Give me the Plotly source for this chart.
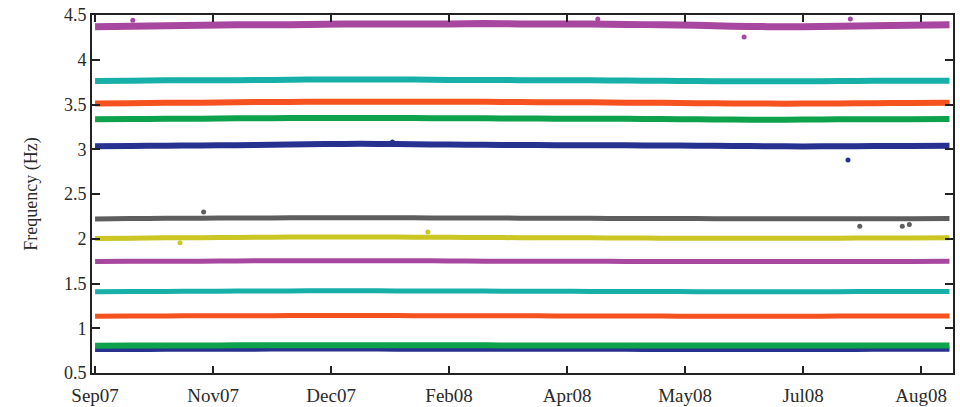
import plotly.graph_objects as go

# Day index (days since start of record) of each sampled frequency estimate
days = [0, 15, 30, 45, 60, 75, 90, 105, 120, 135, 150, 165, 180,
        195, 210, 225, 240, 255, 270, 285, 300, 315, 330, 345, 362]

# Identified modal frequencies (Hz), highest mode first
mode12 = [4.37, 4.375, 4.38, 4.385, 4.39, 4.39, 4.395, 4.40, 4.40, 4.40, 4.40, 4.405, 4.40,
          4.40, 4.40, 4.395, 4.39, 4.385, 4.375, 4.37, 4.37, 4.375, 4.38, 4.385, 4.39]
mode11 = [3.763, 3.765, 3.77, 3.77, 3.772, 3.775, 3.778, 3.78, 3.78, 3.778, 3.775, 3.775, 3.772,
          3.77, 3.77, 3.768, 3.765, 3.762, 3.76, 3.76, 3.76, 3.762, 3.764, 3.765, 3.765]
mode10 = [3.51, 3.515, 3.52, 3.52, 3.525, 3.528, 3.53, 3.532, 3.532, 3.532, 3.53, 3.53, 3.528,
          3.525, 3.525, 3.52, 3.52, 3.515, 3.512, 3.51, 3.51, 3.512, 3.515, 3.518, 3.52]
mode9 = [3.335, 3.337, 3.34, 3.342, 3.345, 3.347, 3.35, 3.35, 3.35, 3.348, 3.346, 3.345, 3.344,
         3.342, 3.34, 3.34, 3.337, 3.335, 3.332, 3.33, 3.332, 3.334, 3.335, 3.336, 3.337]
mode8 = [3.033, 3.036, 3.04, 3.042, 3.046, 3.05, 3.055, 3.06, 3.06, 3.056, 3.052, 3.05, 3.047,
         3.046, 3.045, 3.044, 3.042, 3.04, 3.036, 3.034, 3.032, 3.034, 3.035, 3.036, 3.038]
mode7 = [2.222, 2.225, 2.228, 2.23, 2.232, 2.233, 2.235, 2.235, 2.235, 2.234, 2.232, 2.232, 2.23,
         2.23, 2.228, 2.227, 2.226, 2.225, 2.224, 2.223, 2.223, 2.223, 2.224, 2.224, 2.225]
mode6 = [2.003, 2.006, 2.01, 2.012, 2.015, 2.018, 2.02, 2.02, 2.02, 2.018, 2.016, 2.014, 2.012,
         2.01, 2.01, 2.008, 2.006, 2.005, 2.005, 2.005, 2.005, 2.006, 2.008, 2.009, 2.01]
mode5 = [1.745, 1.748, 1.75, 1.75, 1.752, 1.754, 1.755, 1.755, 1.755, 1.754, 1.752, 1.75, 1.75,
         1.75, 1.749, 1.747, 1.746, 1.745, 1.745, 1.745, 1.745, 1.745, 1.746, 1.747, 1.748]
mode4 = [1.408, 1.41, 1.412, 1.413, 1.415, 1.417, 1.418, 1.418, 1.418, 1.417, 1.416, 1.415, 1.414,
         1.413, 1.412, 1.411, 1.41, 1.409, 1.408, 1.408, 1.408, 1.409, 1.41, 1.41, 1.41]
mode3 = [1.134, 1.136, 1.138, 1.139, 1.14, 1.141, 1.142, 1.142, 1.142, 1.141, 1.14, 1.14, 1.139,
         1.138, 1.138, 1.137, 1.136, 1.135, 1.135, 1.135, 1.135, 1.136, 1.136, 1.137, 1.137]
mode2 = [0.805, 0.806, 0.807, 0.808, 0.809, 0.81, 0.81, 0.81, 0.81, 0.81, 0.809, 0.809, 0.808,
         0.808, 0.807, 0.807, 0.806, 0.806, 0.806, 0.806, 0.806, 0.806, 0.807, 0.807, 0.807]
mode1 = [0.762, 0.763, 0.764, 0.765, 0.766, 0.767, 0.767, 0.767, 0.767, 0.766, 0.766, 0.765, 0.765,
         0.765, 0.764, 0.764, 0.763, 0.763, 0.763, 0.763, 0.763, 0.763, 0.764, 0.764, 0.764]

# Isolated estimates that fall away from their mode band: (day, Hz)
out12 = ([16, 213, 275, 320], [4.44, 4.455, 4.254, 4.455])
out8 = ([126, 319], [3.08, 2.88])
out7 = ([46, 324, 342, 345], [2.30, 2.14, 2.14, 2.16])
out6 = ([36, 141], [1.955, 2.075])

# Month labels along the time axis
tick_days = [0, 50, 100, 150, 200, 250, 300, 350]
tick_text = ["Sep07", "Nov07", "Dec07", "Feb08", "Apr08", "May08", "Jul08", "Aug08"]

MAGENTA = "#A8479F"
CYAN = "#17B0A9"
ORANGE = "#F5521F"
GREEN = "#0FA24C"
NAVY = "#27318F"
GRAY = "#5E5E5E"
YELLOW = "#CBC623"

bands = [
    (mode1, NAVY, 5), (mode2, GREEN, 6), (mode3, ORANGE, 5), (mode4, CYAN, 5),
    (mode5, MAGENTA, 5), (mode6, YELLOW, 5), (mode7, GRAY, 5), (mode8, NAVY, 6),
    (mode9, GREEN, 6), (mode10, ORANGE, 6), (mode11, CYAN, 6), (mode12, MAGENTA, 7),
]

fig = go.Figure()
for vals, col, w in bands:
    fig.add_trace(go.Scatter(x=days, y=vals, mode="lines",
                             line=dict(color=col, width=w, shape="spline", smoothing=0.6),
                             hoverinfo="skip", showlegend=False))

for (xs, ys), col in [(out12, MAGENTA), (out8, NAVY), (out7, GRAY), (out6, YELLOW)]:
    fig.add_trace(go.Scatter(x=xs, y=ys, mode="markers",
                             marker=dict(color=col, size=5),
                             hoverinfo="skip", showlegend=False))

SERIF = "Liberation Serif, Times New Roman, serif"
INK = "#2a2a2a"

fig.update_layout(
    width=960, height=407,
    margin=dict(l=92, r=7, t=15, b=34),
    paper_bgcolor="white", plot_bgcolor="white",
    font=dict(family=SERIF, size=17, color=INK),
    xaxis=dict(range=[-1.3, 363.5], tickvals=tick_days, ticktext=tick_text,
               ticks="inside", ticklen=7, tickwidth=1.5, tickcolor="#222",
               showline=True, linecolor="#222", linewidth=2, mirror="ticks",
               showgrid=False, zeroline=False, ticklabelstandoff=4, automargin=False,
               tickfont=dict(family=SERIF, size=19, color=INK)),
    yaxis=dict(range=[0.5, 4.5], tickvals=[0.5, 1, 1.5, 2, 2.5, 3, 3.5, 4, 4.5],
               ticktext=["0.5", "1", "1.5", "2", "2.5", "3", "3.5", "4", "4.5"],
               ticks="inside", ticklen=8, tickwidth=1.5, tickcolor="#222",
               showline=True, linecolor="#222", linewidth=2, mirror="ticks",
               showgrid=False, zeroline=False, automargin=False,
               tickfont=dict(family=SERIF, size=18, color=INK),
               title=dict(text="Frequency (Hz)", font=dict(family=SERIF, size=18, color=INK),
                          standoff=22)),
)

fig.write_html("out.html")
